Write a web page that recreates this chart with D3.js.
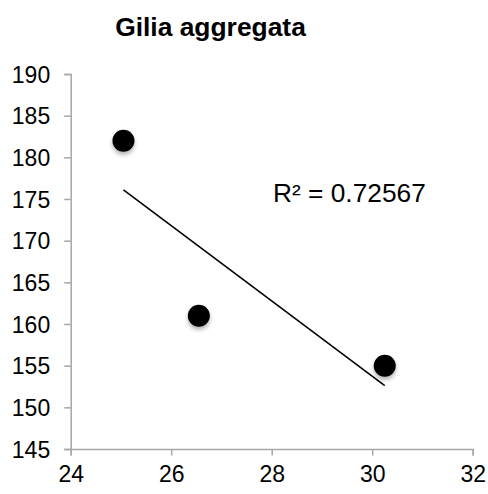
<!DOCTYPE html>
<html>
<head>
<meta charset="utf-8">
<script src="https://cdn.jsdelivr.net/npm/d3@7"></script>
<style>
  html, body { margin: 0; padding: 0; background: #fff; }
  svg { display: block; font-family: "Liberation Sans", Arial, Helvetica, sans-serif; }
</style>
</head>
<body>
<svg id="chart" width="488" height="494"></svg>
<script>
// Observations: x value and y value per point
const xValues = [25.05, 26.55, 30.25];
const yValues = [182, 161, 155];
const xTicks = [24, 26, 28, 30, 32];
const yTicks = [145, 150, 155, 160, 165, 170, 175, 180, 185, 190];
const chartTitle = "Gilia aggregata";
const rSquaredLabel = "R\u00B2 = 0.72567";

const svg = d3.select("#chart");
const W = 488, H = 494;
const margin = { left: 70.7, right: 488 - 472.7, top: 74, bottom: 494 - 449 };

const x = d3.scaleLinear().domain([24, 32]).range([margin.left, W - margin.right]);
const y = d3.scaleLinear().domain([145, 190]).range([H - margin.bottom, margin.top]);

// Drop shadow for the markers
const defs = svg.append("defs");
const f = defs.append("filter").attr("id", "shadow")
  .attr("x", "-50%").attr("y", "-50%").attr("width", "200%").attr("height", "200%");
f.append("feDropShadow").attr("dx", 0).attr("dy", 3).attr("stdDeviation", 2)
  .attr("flood-color", "#000").attr("flood-opacity", 0.3);

// Axes
const axisColor = "#a6a6a6";
const yAxis = svg.append("g")
  .attr("transform", `translate(${margin.left},0)`)
  .call(d3.axisLeft(y).tickValues(yTicks).tickSize(6.5).tickPadding(14).tickFormat(d3.format("d")));
const xAxis = svg.append("g")
  .attr("transform", `translate(0,${H - margin.bottom})`)
  .call(d3.axisBottom(x).tickValues(xTicks).tickSize(6.5).tickPadding(10).tickFormat(d3.format("d")));

[yAxis, xAxis].forEach(g => {
  g.select(".domain").attr("stroke", axisColor).attr("stroke-width", 1.5);
  g.selectAll(".tick line").attr("stroke", axisColor).attr("stroke-width", 1.5);
  g.selectAll(".tick text").attr("fill", "#000").attr("font-size", 23)
    .attr("font-family", "Liberation Sans, Arial, sans-serif");
});
yAxis.selectAll(".tick text").attr("dy", "0.35em");

// Least-squares trendline over the range of observed x
const pts = xValues.map((v, i) => ({ x: v, y: yValues[i] }));
const mx = d3.mean(xValues), my = d3.mean(yValues);
const slope = d3.sum(pts, p => (p.x - mx) * (p.y - my)) / d3.sum(pts, p => (p.x - mx) ** 2);
const intercept = my - slope * mx;
const [x0, x1] = d3.extent(xValues);
svg.append("line")
  .attr("x1", x(x0)).attr("y1", y(intercept + slope * x0))
  .attr("x2", x(x1)).attr("y2", y(intercept + slope * x1))
  .attr("stroke", "#000").attr("stroke-width", 1.6);

// Markers
svg.append("g").selectAll("circle").data(pts).join("circle")
  .attr("cx", d => x(d.x)).attr("cy", d => y(d.y)).attr("r", 11)
  .attr("fill", "#000").attr("filter", "url(#shadow)");

// Title
svg.append("text")
  .attr("x", 210.5).attr("y", 36)
  .attr("text-anchor", "middle")
  .attr("font-size", 26.4).attr("font-weight", "bold")
  .text(chartTitle);

// R-squared annotation
svg.append("text")
  .attr("x", 273).attr("y", 202)
  .attr("font-size", 26.3)
  .text(rSquaredLabel);
</script>
</body>
</html>
